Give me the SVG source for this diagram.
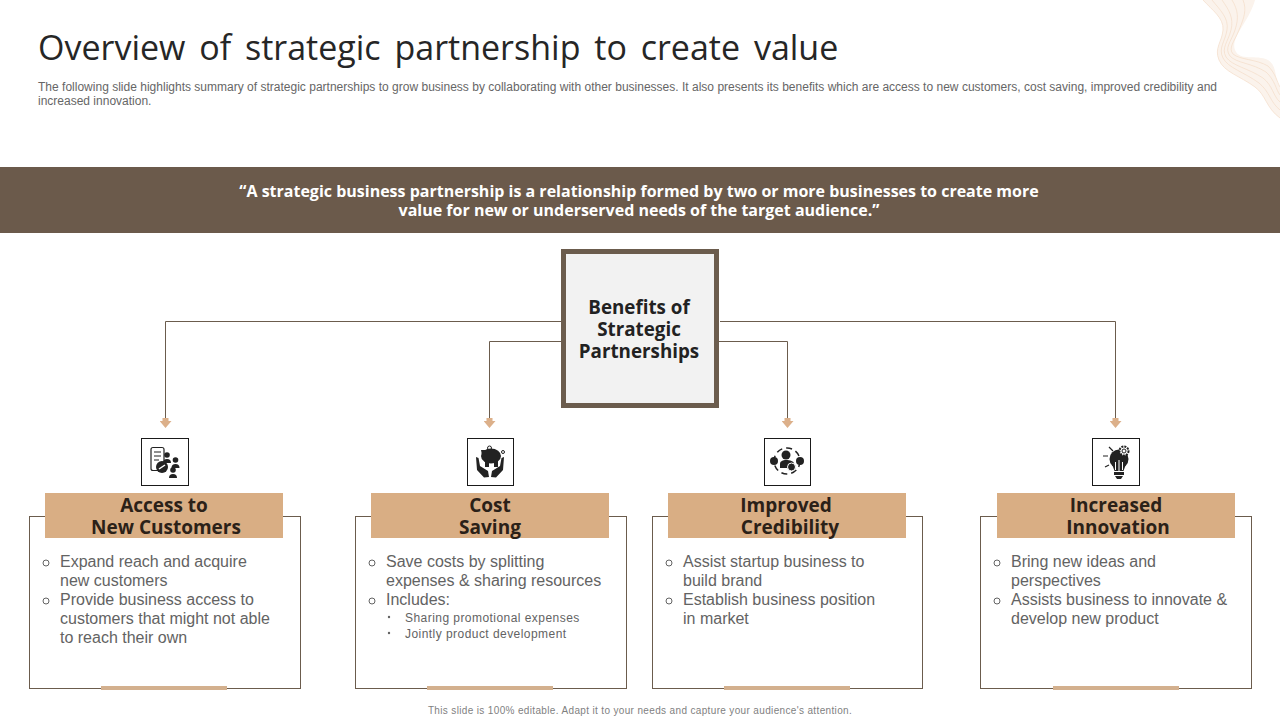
<svg xmlns="http://www.w3.org/2000/svg" width="1280" height="720" viewBox="0 0 1280 720">
<style>
text{font-family:"Liberation Sans",Arial,sans-serif}
.h{font-family:"Open Sans","Noto Sans",sans-serif;font-weight:700}
.ttl{font-family:"Open Sans","Noto Sans",sans-serif;font-size:34px;fill:#262626;word-spacing:5px}
.sub{font-size:12px;fill:#666}
.hd{font-size:19px;fill:#2b2118;text-anchor:middle}
.b{font-size:16px;fill:#636363}
.s{font-size:12px;fill:#636363;letter-spacing:.45px}
.card{fill:#fff;stroke:#6b5c4d;stroke-width:1}
.band{fill:#d9ae84}
.foot{fill:#d3b08e}
.conn{fill:none;stroke:#6b5c4d;stroke-width:1}
.ic{fill:#fff;stroke:#1a1a1a;stroke-width:1}
.g{fill:#222}
.gl{fill:none;stroke:#222;stroke-width:1.2}
.dot{fill:none;stroke:#636363;stroke-width:1}
.sw{fill:none;stroke:#f3dcc8;stroke-width:.7}
</style>
<defs>
<marker id="ah" markerWidth="12" markerHeight="10" refX="6" refY="2" orient="0" markerUnits="userSpaceOnUse"><path d="M3 0H9V3H12L6 10 0 3H3Z" fill="#dcb08a"/></marker>
</defs>
<rect width="1280" height="720" fill="#fff"/>
<g id="swirl">
<path d="M1203 0C1212 10 1224 18 1223 30C1222 42 1214 48 1219 60C1224 72 1240 76 1255 87C1266 95 1266 108 1280 118V87C1274 80 1278 66 1268 60C1256 54 1240 62 1235 50C1230 38 1250 20 1255 0Z" fill="#fbf3ec"/>
<path class="sw" d="M1203 0C1212 10 1224 18 1223 30C1222 42 1214 48 1219 60C1224 72 1240 76 1255 87C1266 95 1266 108 1280 118"/>
<path class="sw" d="M1212 0C1220 10 1229 18 1227 30C1225 42 1218 48 1223 58C1228 68 1244 72 1259 83C1270 92 1270 102 1280 110"/>
<path class="sw" d="M1222 0C1229 10 1234 18 1231 30C1228 42 1221 48 1226 57C1232 66 1248 68 1263 78C1273 86 1273 96 1280 102"/>
<path class="sw" d="M1232 0C1238 10 1239 18 1235 30C1231 42 1224 48 1230 56C1236 63 1252 63 1266 72C1275 80 1276 90 1280 95"/>
<path class="sw" d="M1243 0C1247 10 1244 18 1239 30C1234 42 1228 48 1233 54C1240 60 1256 59 1268 66C1276 74 1277 82 1280 87"/>
</g>
<text class="ttl" x="38" y="60">Overview of strategic partnership to create value</text>
<text class="sub" x="38" y="91" textLength="1179">The following slide highlights summary of strategic partnerships to grow business by collaborating with other businesses. It also presents its benefits which are access to new customers, cost saving, improved credibility and</text>
<text class="sub" x="38" y="105">increased innovation.</text>
<g id="quote">
<rect y="167" width="1280" height="66" fill="#6b5a4b"/>
<text class="h" x="639" y="197" font-size="16" fill="#fff" text-anchor="middle">“A strategic business partnership is a relationship formed by two or more businesses to create more</text>
<text class="h" x="639" y="216" font-size="16" fill="#fff" text-anchor="middle">value for new or underserved needs of the target audience.”</text>
</g>
<g id="connectors">
<path class="conn" d="M561 321.500H165.500V420" marker-end="url(#ah)"/>
<path class="conn" d="M561 341.500H489.500V420" marker-end="url(#ah)"/>
<path class="conn" d="M719 341.500H787.500V420" marker-end="url(#ah)"/>
<path class="conn" d="M720 321.500H1115.500V420" marker-end="url(#ah)"/>
</g>
<g id="center">
<rect x="563.500" y="251.500" width="153" height="154" fill="#f2f2f2" stroke="#6b5c4d" stroke-width="5"/>
<text class="h" font-size="18.800" fill="#222" text-anchor="middle"><tspan x="639" y="314">Benefits of</tspan><tspan x="639" y="336">Strategic</tspan><tspan x="639" y="358">Partnerships</tspan></text>
</g>
<g id="node-access">
<rect class="ic" x="141.500" y="438.500" width="47" height="47"/>
<rect class="gl" x="151" y="447.500" width="13" height="23" rx="2"/>
<path class="gl" d="M154 452H161M154 456H161M154 460H159"/>
<circle class="g" cx="162" cy="467" r="6"/><path d="M159 469L165 465" stroke="#fff" stroke-width="1.500"/>
<circle class="g" cx="167" cy="455" r="2.800"/><path class="g" d="M163 463a4 4 0 0 1 8 0Z"/>
<circle class="g" cx="175.500" cy="460" r="2.800"/><path class="g" d="M171.500 468a4 4 0 0 1 8 0Z"/>
<circle class="g" cx="173" cy="470" r="2.800"/><path class="g" d="M169 478a4 4 0 0 1 8 0Z"/>
<rect class="card" x="29.500" y="516.500" width="271" height="172"/>
<rect class="band" x="45" y="493" width="238" height="45"/>
<text class="h hd"><tspan x="164" y="512">Access to</tspan><tspan x="166" y="534">New Customers</tspan></text>
<rect class="foot" x="101" y="686" width="126" height="4"/>
<circle class="dot" cx="46" cy="563" r="3"/><circle class="dot" cx="46" cy="601" r="3"/>
<text class="b"><tspan x="60" y="567">Expand reach and acquire</tspan><tspan x="60" y="586">new customers</tspan><tspan x="60" y="605">Provide business access to</tspan><tspan x="60" y="624">customers that might not able</tspan><tspan x="60" y="643">to reach their own</tspan></text>
</g>
<g id="node-cost">
<rect class="ic" x="467.500" y="438.500" width="46" height="47"/>
<ellipse class="g" cx="491" cy="456" rx="10" ry="7.500"/>
<path class="g" d="M481 450L486 450 486 454 482 455ZM485 461H489V467H485ZM494 461H498V467H494Z"/>
<circle cx="489.500" cy="448" r="2" fill="none" stroke="#222"/>
<circle cx="503" cy="452" r="1.500" fill="none" stroke="#222"/>
<path class="g" d="M476 457L478.500 458 480 466 488 471 489 477 484 477.500 477 470ZM504 457L501.500 458 500 466 492 471 491 477 496 477.500 503 470Z"/>
<rect class="card" x="355.500" y="516.500" width="271" height="172"/>
<rect class="band" x="371" y="493" width="238" height="45"/>
<text class="h hd"><tspan x="490" y="512">Cost</tspan><tspan x="490" y="534">Saving</tspan></text>
<rect class="foot" x="427" y="686" width="126" height="4"/>
<circle class="dot" cx="372" cy="563" r="3"/><circle class="dot" cx="372" cy="601" r="3"/>
<text class="b"><tspan x="386" y="567">Save costs by splitting</tspan><tspan x="386" y="586">expenses &amp; sharing resources</tspan><tspan x="386" y="605">Includes:</tspan></text>
<circle cx="389" cy="617" r="1.200" fill="#636363"/><circle cx="389" cy="633" r="1.200" fill="#636363"/>
<text class="s"><tspan x="405" y="622">Sharing promotional expenses</tspan><tspan x="405" y="638">Jointly product development</tspan></text>
</g>
<g id="node-credibility">
<rect class="ic" x="764.500" y="438.500" width="46" height="47"/>
<circle cx="787" cy="461" r="13" fill="none" stroke="#222" stroke-width="1.500" stroke-dasharray="6 4"/>
<circle class="g" cx="786" cy="455" r="4.500"/><path class="g" d="M780 468V464C780 461 783 460 786 460C790 460 794 461 794 464V468Z"/>
<circle class="g" cx="774" cy="461" r="4"/><circle class="g" cx="800" cy="461" r="4"/>
<circle class="g" cx="791.500" cy="467" r="4" stroke="#fff"/>
<rect class="card" x="652.500" y="516.500" width="270" height="172"/>
<rect class="band" x="668" y="493" width="238" height="45"/>
<text class="h hd"><tspan x="786" y="512">Improved</tspan><tspan x="790" y="534">Credibility</tspan></text>
<rect class="foot" x="724" y="686" width="126" height="4"/>
<circle class="dot" cx="669" cy="563" r="3"/><circle class="dot" cx="669" cy="601" r="3"/>
<text class="b"><tspan x="683" y="567">Assist startup business to</tspan><tspan x="683" y="586">build brand</tspan><tspan x="683" y="605">Establish business position</tspan><tspan x="683" y="624">in market</tspan></text>
</g>
<g id="node-innovation">
<rect class="ic" x="1092.500" y="438.500" width="47" height="47"/>
<circle class="g" cx="1119" cy="459" r="9.500"/>
<path class="g" d="M1112 464H1126L1123.500 471H1114.500ZM1114 472H1124V475H1114ZM1115 476H1123L1121 479H1117Z"/>
<circle cx="1124" cy="451" r="4.500" fill="#fff" stroke="#222" stroke-width="2" stroke-dasharray="2 1"/>
<circle cx="1124" cy="451" r="2" fill="none" stroke="#222"/>
<path class="gl" d="M1109 447L1113 451M1103 456H1108M1105 467L1109 465"/>
<path d="M1119 471V460M1115.500 470V462M1122.500 470V462" stroke="#fff" fill="none"/>
<rect class="card" x="980.500" y="516.500" width="271" height="172"/>
<rect class="band" x="997" y="493" width="238" height="45"/>
<text class="h hd"><tspan x="1116" y="512">Increased</tspan><tspan x="1118" y="534">Innovation</tspan></text>
<rect class="foot" x="1053" y="686" width="126" height="4"/>
<circle class="dot" cx="997" cy="563" r="3"/><circle class="dot" cx="997" cy="601" r="3"/>
<text class="b"><tspan x="1011" y="567">Bring new ideas and</tspan><tspan x="1011" y="586">perspectives</tspan><tspan x="1011" y="605">Assists business to innovate &amp;</tspan><tspan x="1011" y="624">develop new product</tspan></text>
</g>
<text x="640" y="714" font-size="10" fill="#7f7f7f" text-anchor="middle" letter-spacing=".35">This slide is 100% editable. Adapt it to your needs and capture your audience's attention.</text>
</svg>
